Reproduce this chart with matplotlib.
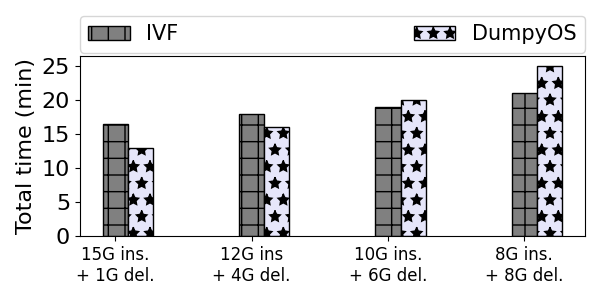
import numpy as np
import matplotlib
matplotlib.use("Agg")
import matplotlib.pyplot as plt

# --------- data
workloads = ["15G ins.\n+ 1G del.", "12G ins\n+ 4G del.", "10G ins.\n+ 6G del.", "8G ins.\n+ 8G del."]
ivf_time = [16.5, 18, 19, 21]
dumpy_time = [13, 16, 20, 25]

x = np.arange(len(workloads))
width = 0.185

fig = plt.figure(figsize=(6, 3), dpi=100)
ax = fig.add_axes([0.133, 0.213, 0.842, 0.600])

ax.bar(x, ivf_time, width, color="grey", edgecolor="black", hatch="+", label="IVF")
ax.bar(x + width, dumpy_time, width, color="lavender", edgecolor="black", hatch="*", label="DumpyOS")

ax.set_xticks(x)
ax.set_xticklabels(workloads, fontsize=12)
ax.tick_params(axis="y", labelsize=16)
ax.set_ylabel("Total time (min)", fontsize=16)
ax.set_ylim(0, 26.5)
ax.set_yticks([0, 5, 10, 15, 20, 25])

ax.legend(loc="lower left", bbox_to_anchor=(0, 1.02, 1, 0.2), mode="expand",
          ncol=2, fontsize=15, borderaxespad=0)

fig.savefig("out.png", dpi=100)
